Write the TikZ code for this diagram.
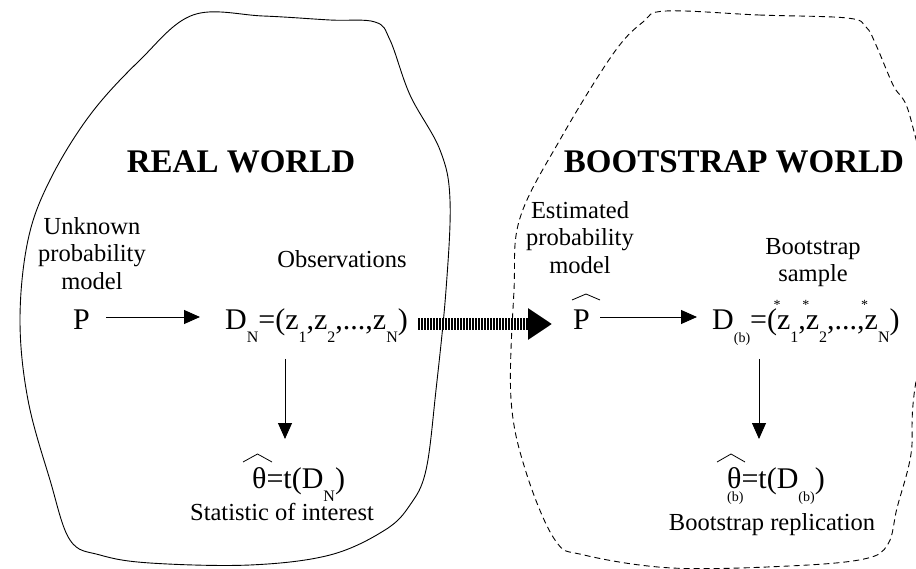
\documentclass[tikz,border=0pt]{standalone}
\usepackage{fontspec}
\setmainfont{Liberation Serif}
\usepackage{tikz}
\usetikzlibrary{arrows.meta, positioning}

\newcommand{\dsub}[1]{\raisebox{-13pt}{\fontsize{16}{16}\selectfont #1}}
\newcommand{\bsub}{\raisebox{-13pt}{\fontsize{14}{14}\selectfont (b)}}
\newcommand{\zstar}[1]{\makebox[0pt][c]{\raisebox{20pt}{\fontsize{14}{14}\selectfont *}}z\dsub{#1}}

\begin{document}
\begin{tikzpicture}[x=1pt, y=-1pt,
        lbl/.style={font=\fontsize{24.5}{27.5}\selectfont, align=center, inner sep=0pt},
        frm/.style={font=\fontsize{30}{30}\selectfont, inner sep=0pt, anchor=base west},
        ttl/.style={font=\bfseries\fontsize{33}{33}\selectfont, inner sep=0pt, anchor=base},
        line/.style={draw=black, line width=0.9pt, -{Triangle[length=16pt, width=14pt]}},
        hatline/.style={draw=black, line width=0.8pt},
        bigline/.style={draw=black, line width=12pt, dash pattern=on 2pt off 1pt, -{Triangle[length=24pt, width=30pt]}}
    ]
        \useasboundingbox (0,0) rectangle (916,569);

        % the two worlds
        \draw[line width=0.9pt] plot[smooth cycle, tension=0.6] coordinates {
            (193,15) (263,16) (330,20) (375,22) (390,40) (410,95) (440,150) (450,200)
            (446,290) (436,390) (426,470) (410,505) (385,530) (330,555) (250,565)
            (150,563) (100,555) (70,540) (50,480) (28,400) (20,320) (28,240)
            (50,180) (90,115) (140,60)};
        \draw[line width=0.9pt, dash pattern=on 6pt off 4pt] plot[smooth cycle, tension=0.6] coordinates {
            (666,11) (759,15) (847,18) (866,27) (876,45) (893,85) (911,120) (935,250)
            (914,395) (911,454) (897,508) (888,544) (864,559) (789,566) (672,568)
            (584,555) (555,540) (526,472) (511,399) (514,290) (520,218) (561,138)
            (613,54) (643,22)};

        % titles
        \node[ttl] (real) at (241,173) {REAL WORLD};
        \node[ttl] (boot) at (734,173) {BOOTSTRAP WORLD};

        % real world
        \node[lbl, anchor=north] (unk) at (92,217) {Unknown\\probability\\model};
        \node[lbl, anchor=base] (obsl) at (342,268) {Observations};
        \node[frm] (P) at (73,330) {P};
        \node[frm] (obs) at (225,330) {D\dsub{N}=(z\dsub{1},z\dsub{2},...,z\dsub{N})};
        \node[frm] (thetaL) at (252,488) {θ=t(D\dsub{N})};
        \node[lbl, anchor=base] (stat) at (282,520) {Statistic of interest};

        % bootstrap world
        \node[lbl, anchor=north] (est) at (580,201) {Estimated\\probability\\model};
        \node[lbl, anchor=north] (bsl) at (813,238) {Bootstrap\\sample};
        \node[frm] (Phat) at (573,330) {P};
        \node[frm] (bootD) at (712,330) {D\bsub=(\zstar{1},\zstar{2},...,\zstar{N})};
        \node[frm] (thetaR) at (727,488) {\makebox[0pt][l]{\bsub}θ=t(D\bsub)};
        \node[lbl, anchor=base] (brep) at (772,530) {Bootstrap replication};

        % hats
        \draw[hatline] ([shift={(-1,-30)}]Phat.base west) -- ++(14,-6) -- ++(14,6);
        \draw[hatline] ([shift={(-9,-26)}]thetaL.base west) -- ++(14.5,-8) -- ++(14.5,8);
        \draw[hatline] ([shift={(-10,-26)}]thetaR.base west) -- ++(14,-8) -- ++(14,8);

        % arrows
        \draw[line] ([shift={(16,-13)}]P.base east) -- ([shift={(-25,-13)}]obs.base west);
        \draw[line] ([shift={(60,29)}]obs.base west) -- ([shift={(33,-49)}]thetaL.base west);
        \draw[bigline] ([shift={(10,-6)}]obs.base east) -- ([shift={(-21,-6)}]Phat.base west);
        \draw[line] ([shift={(10,-13)}]Phat.base east) -- ([shift={(-15,-13)}]bootD.base west);
        \draw[line] ([shift={(47,29)}]bootD.base west) -- ([shift={(32,-49)}]thetaR.base west);
    \end{tikzpicture}
\end{document}
